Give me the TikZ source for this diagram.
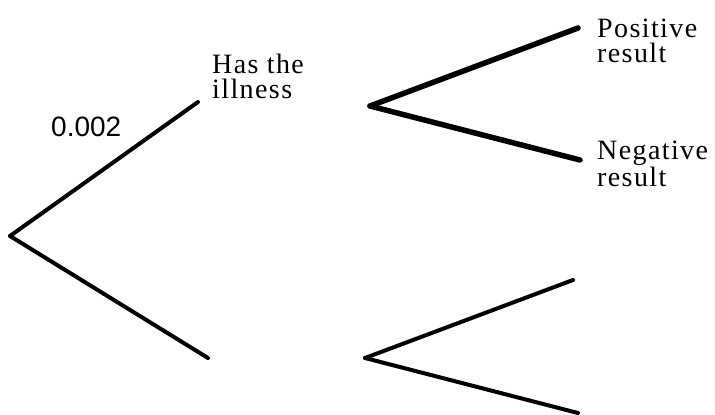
\documentclass[tikz,border=0pt]{standalone}
\usepackage{fontspec}
\setmainfont{Liberation Serif}
\newfontfamily\outcomefont[LetterSpace=5]{Liberation Serif}
\newfontfamily\probfont{Liberation Sans}
\usetikzlibrary{positioning}

\begin{document}
\begin{tikzpicture}[x=1pt,y=-1pt,
    branch/.style={line width=4pt,line cap=round},
    thickbranch/.style={line width=5.5pt,line cap=round},
    outcome/.style={align=left,inner sep=0pt,anchor=base west,
      font=\outcomefont\fontsize{28}{25}\selectfont}]

  \useasboundingbox (0,0) rectangle (715,415);

  %-------------------- first stage --------------------
  \coordinate (root) at (10,236);
  \coordinate (ill)  at (198,102);
  \coordinate (well) at (208,358);

  \draw[branch] (root) -- (ill);
  \draw[branch] (root) -- (well);

  % anchor base = baseline of the last line
  \node[inner sep=0pt,anchor=base west,font=\probfont\fontsize{28}{28}\selectfont]
    (pill) at (51,136) {0.002};
  \node[outcome] (illtext) at (212,98) {Has the\\illness};

  %-------------------- second stage, has the illness --------------------
  \coordinate (illfork) at (370,106);
  \coordinate (illpos)  at (578,28);
  \coordinate (illneg)  at (580,160);

  \draw[thickbranch] (illfork) -- (illpos);
  \draw[thickbranch] (illfork) -- (illneg);

  \node[outcome] (postext) at (597,62) {Positive\\result};
  \node[outcome] (negtext) at (597,186) {Negative\\result};

  %-------------------- second stage, no illness --------------------
  \coordinate (wellfork) at (365,358);
  \coordinate (wellpos)  at (573,280);
  \coordinate (wellneg)  at (578,413);

  \draw[branch] (wellfork) -- (wellpos);
  \draw[branch] (wellfork) -- (wellneg);

\end{tikzpicture}
\end{document}
